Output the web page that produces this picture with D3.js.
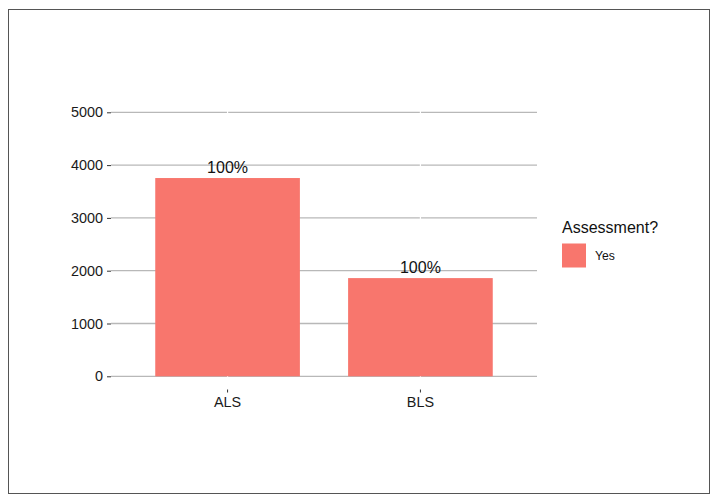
<!DOCTYPE html>
<html><head><meta charset="utf-8">
<script src="https://cdn.jsdelivr.net/npm/d3@7"></script>
<style>body{margin:0;background:#fff}svg{display:block;font-family:"Liberation Sans",Arial,sans-serif}</style>
</head><body>
<script>
const categories = ["ALS", "BLS"];
const values = [3755, 1860];
const labels = ["100%", "100%"];
const yTicks = [0, 1000, 2000, 3000, 4000, 5000];
const legendTitle = "Assessment?";
const legendItems = ["Yes"];

const W = 711, H = 502;
const svg = d3.select("body").append("svg").attr("width", W).attr("height", H);
svg.append("rect").attr("x", 8.5).attr("y", 9.5).attr("width", 701).attr("height", 484)
  .attr("fill", "#fff").attr("stroke", "#555").attr("stroke-width", 1);

const left = 111, right = 537;
const y = d3.scaleLinear().domain([0, 5000]).range([376.3, 112.3]);
const x = d3.scaleBand().domain(categories).range([108, 540]).paddingInner(0.25).paddingOuter(0.245);

const g = svg.append("g");
// gridlines
g.selectAll("line.grid").data(yTicks).join("line")
  .attr("x1", left).attr("x2", right)
  .attr("y1", d => y(d)).attr("y2", d => y(d))
  .attr("stroke", "#b8b8b8").attr("stroke-width", 1.3);
// white vertical grid at categories
g.selectAll("line.vg").data(categories).join("line")
  .attr("x1", d => x(d) + x.bandwidth() / 2).attr("x2", d => x(d) + x.bandwidth() / 2)
  .attr("y1", 99).attr("y2", 389.5)
  .attr("stroke", "#fff").attr("stroke-width", 1.2);
// bars
g.selectAll("rect.bar").data(categories).join("rect")
  .attr("x", d => x(d)).attr("width", x.bandwidth())
  .attr("y", (d, i) => y(values[i])).attr("height", (d, i) => y(0) - y(values[i]))
  .attr("fill", "#F8766D");
// labels
g.selectAll("text.lab").data(categories).join("text")
  .attr("x", d => x(d) + x.bandwidth() / 2)
  .attr("y", (d, i) => y(values[i]) - 5.5)
  .attr("text-anchor", "middle").attr("font-size", 16).attr("fill", "#111")
  .text((d, i) => labels[i]);

// y axis
const yAxis = d3.axisLeft(y).tickValues(yTicks).tickSize(4).tickPadding(4).tickFormat(d3.format("d"));
const ya = svg.append("g").attr("transform", `translate(${left},0)`).call(yAxis);
ya.select(".domain").remove();
ya.selectAll(".tick line").attr("stroke", "#333");
ya.selectAll(".tick text").attr("font-size", 14.4).attr("fill", "#1a1a1a").attr("font-family", "Liberation Sans, Arial, sans-serif");

// x axis
const xAxis = d3.axisBottom(x).tickSize(3).tickPadding(4);
const xa = svg.append("g").attr("transform", `translate(0,389.5)`).call(xAxis);
xa.select(".domain").remove();
xa.selectAll(".tick line").attr("stroke", "#333");
xa.selectAll(".tick text").attr("font-size", 14.4).attr("fill", "#1a1a1a").attr("font-family", "Liberation Sans, Arial, sans-serif");

// legend
svg.append("text").attr("x", 562).attr("y", 233).attr("font-size", 16).attr("fill", "#111").text(legendTitle);
const lg = svg.append("g");
lg.selectAll("rect").data(legendItems).join("rect")
  .attr("x", 562).attr("y", (d, i) => 243.5 + i * 25).attr("width", 24).attr("height", 24).attr("fill", "#F8766D");
lg.selectAll("text").data(legendItems).join("text")
  .attr("x", 595).attr("y", (d, i) => 260 + i * 25).attr("font-size", 12.2).attr("fill", "#111").text(d => d);
</script>
</body></html>
